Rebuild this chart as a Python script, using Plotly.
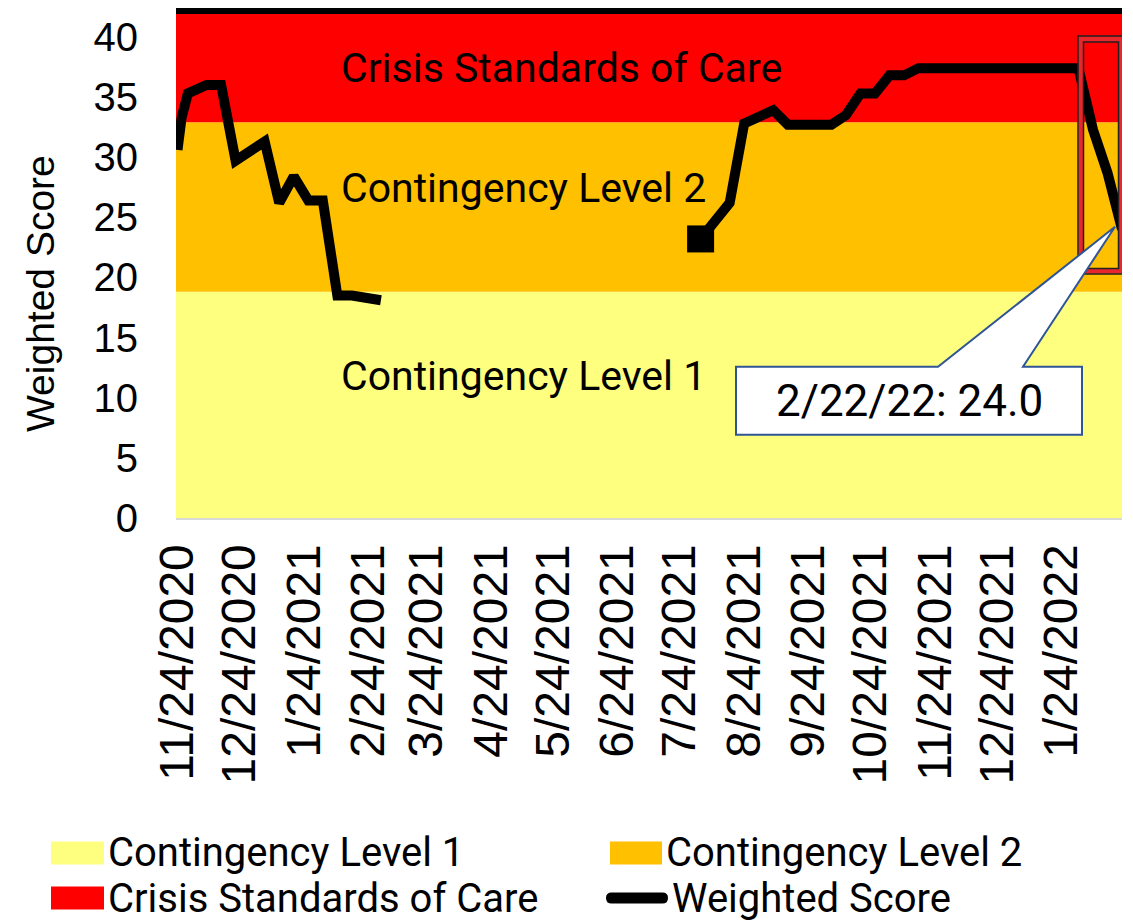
import plotly.graph_objects as go

# ---------------- data ----------------
band_names = ["Contingency Level 1", "Contingency Level 2", "Crisis Standards of Care"]
band_tops = [18.8, 32.9, 41.9]
band_colors = ["#FFFF7F", "#FFC000", "#FF0000"]
band_x = ["2020-11-20", "2022-02-25"]

score_dates_1 = ["2020-11-24", "2020-11-26", "2020-11-29", "2020-12-03", "2020-12-08",
                 "2020-12-15", "2020-12-22", "2021-01-05", "2021-01-12", "2021-01-19",
                 "2021-01-26", "2021-02-02", "2021-02-09", "2021-02-16", "2021-02-23",
                 "2021-03-02"]
score_values_1 = [30.6, 33.3, 35.3, 35.7, 36.0,
                  36.0, 29.7, 31.3, 26.2, 28.4,
                  26.4, 26.4, 18.5, 18.5, 18.3,
                  18.1]

score_dates_2 = ["2021-08-03", "2021-08-10", "2021-08-17", "2021-08-24", "2021-08-31",
                 "2021-09-07", "2021-09-14", "2021-09-21", "2021-09-28", "2021-10-05",
                 "2021-10-12", "2021-10-19", "2021-10-26", "2021-11-02", "2021-11-09",
                 "2021-11-16", "2021-11-23", "2021-11-30", "2021-12-07", "2021-12-14",
                 "2021-12-21", "2021-12-28", "2022-01-04", "2022-01-11", "2022-01-18",
                 "2022-01-25", "2022-02-01", "2022-02-08", "2022-02-15", "2022-02-22"]
score_values_2 = [23.2, 24.7, 26.2, 32.8, 33.35,
                  33.9, 32.7, 32.7, 32.7, 32.7,
                  33.5, 35.3, 35.3, 36.8, 36.8,
                  37.4, 37.4, 37.4, 37.4, 37.4,
                  37.4, 37.4, 37.4, 37.4, 37.4,
                  37.4, 37.4, 32.3, 28.7, 24.0]

tick_dates = ["2020-11-24", "2020-12-24", "2021-01-24", "2021-02-24", "2021-03-24",
              "2021-04-24", "2021-05-24", "2021-06-24", "2021-07-24", "2021-08-24",
              "2021-09-24", "2021-10-24", "2021-11-24", "2021-12-24", "2022-01-24"]
tick_labels = ["11/24/2020", "12/24/2020", "1/24/2021", "2/24/2021", "3/24/2021",
               "4/24/2021", "5/24/2021", "6/24/2021", "7/24/2021", "8/24/2021",
               "9/24/2021", "10/24/2021", "11/24/2021", "12/24/2021", "1/24/2022"]
y_ticks = [0, 5, 10, 15, 20, 25, 30, 35, 40]

callout_text = "2/22/22: 24.0"
y_title = "Weighted Score"
line_name = "Weighted Score"

# ---------------- layout geometry ----------------
# the page body has an 8px margin, so the figure is drawn 8px smaller
W, H = 1125, 915
ML, MR, MT, MB = 168, 11, 0, 405
PW, PH = W - ML - MR, H - MT - MB
PAGE_L, PAGE_B = 176, 518  # plot area left / bottom on the page

def px(x):
    return (x - PAGE_L) / PW

def py(y):
    return (PAGE_B - y) / PH

ARIAL = "Liberation Sans, Arial, sans-serif"
DIN = "Roboto, Liberation Sans, sans-serif"

fig = go.Figure()

# bands (stacked fills)
for i, (name, top, col) in enumerate(zip(band_names, band_tops, band_colors)):
    fig.add_trace(go.Scatter(
        x=band_x, y=[top, top], mode="none", name=name,
        fill="tozeroy" if i == 0 else "tonexty", fillcolor=col,
        showlegend=False, hoverinfo="skip"))

# weighted score line (gap between the two segments)
line_x = score_dates_1 + [None] + score_dates_2
line_y = score_values_1 + [None] + score_values_2
fig.add_trace(go.Scatter(
    x=line_x, y=line_y, mode="lines", name=line_name, connectgaps=False,
    line=dict(color="black", width=10), showlegend=False))
# square marker at the start of the second segment
fig.add_trace(go.Scatter(
    x=[score_dates_2[0]], y=[score_values_2[0]], mode="markers", name=line_name,
    marker=dict(symbol="square", size=27, color="black"), showlegend=False))

shapes = []
annotations = []

# black top line
shapes.append(dict(type="line", xref="paper", yref="y", x0=0, x1=1, y0=42.15, y1=42.15,
                   line=dict(color="black", width=6), layer="above"))

last_x, last_y = score_dates_2[-1], score_values_2[-1]
common = dict(xref="x", yref="y", xsizemode="pixel", ysizemode="pixel",
              xanchor=last_x, yanchor=last_y, layer="above")

# highlight rectangle around the last weeks
shapes.append(dict(type="rect", x0=-41.25, x1=-0.75, y0=190.3, y1=-41.95,
                   line=dict(color="#E8262B", width=5), fillcolor="rgba(0,0,0,0)", **common))
shapes.append(dict(type="rect", x0=-44, x1=2, y0=193.3, y1=-44.7,
                   line=dict(color="#222222", width=1.5), fillcolor="rgba(0,0,0,0)", **common))
shapes.append(dict(type="rect", x0=-38.5, x1=-3.5, y0=187.3, y1=-39.2,
                   line=dict(color="#222222", width=1.5), fillcolor="rgba(0,0,0,0)", **common))

# callout
callout_path = ("M -386,-137.5 L -184,-137.5 L -7,2.5 L -99,-137.5 L -40,-137.5 "
                "L -40,-205.5 L -386,-205.5 Z")
shapes.append(dict(type="path", path=callout_path, fillcolor="white",
                   line=dict(color="#2F5597", width=2), **common))
annotations.append(dict(x=last_x, y=last_y, xref="x", yref="y", text=callout_text,
                        showarrow=False, xshift=-213, yshift=-172,
                        font=dict(family=DIN, size=44, color="black")))

# band labels
for name, yv in zip(band_names, [11.8, 27.4, 37.4]):
    annotations.append(dict(x=px(339), y=yv, xref="paper", yref="y", text=name,
                            showarrow=False, xanchor="left", yanchor="middle",
                            font=dict(family=DIN, size=41, color="black")))

# y axis title
annotations.append(dict(x=px(40), y=py(294), xref="paper", yref="paper", text=y_title,
                        textangle=-90, showarrow=False, xanchor="center", yanchor="middle",
                        font=dict(family=ARIAL, size=39, color="black")))

# manual legend (two columns)
leg_items = [
    ("rect", band_colors[0], band_names[0], 51, 104, 853),
    ("rect", band_colors[1], band_names[1], 610, 662, 853),
    ("rect", band_colors[2], band_names[2], 51, 104, 898),
    ("line", "black", line_name, 606, 668, 898),
]
for kind, col, label, x0, x1, yc in leg_items:
    if kind == "rect":
        shapes.append(dict(type="rect", xref="paper", yref="paper",
                           x0=px(x0), x1=px(x1), y0=py(yc - 11.5), y1=py(yc + 11.5),
                           fillcolor=col, line=dict(width=0)))
    else:
        r = 5.5
        pts = (f"M {px(x0 + r)},{py(yc - r)} L {px(x1 - r)},{py(yc - r)} "
               f"Q {px(x1)},{py(yc - r)} {px(x1)},{py(yc)} "
               f"Q {px(x1)},{py(yc + r)} {px(x1 - r)},{py(yc + r)} "
               f"L {px(x0 + r)},{py(yc + r)} "
               f"Q {px(x0)},{py(yc + r)} {px(x0)},{py(yc)} "
               f"Q {px(x0)},{py(yc - r)} {px(x0 + r)},{py(yc - r)} Z")
        shapes.append(dict(type="path", xref="paper", yref="paper", path=pts,
                           fillcolor=col, line=dict(width=0)))
    annotations.append(dict(x=px(x1 + 2), y=py(yc), xref="paper", yref="paper", text=label,
                            showarrow=False, xanchor="left", yanchor="middle",
                            font=dict(family=DIN, size=40, color="black")))

fig.update_layout(
    width=W, height=H,
    margin=dict(l=ML, r=MR, t=MT, b=MB),
    paper_bgcolor="white", plot_bgcolor="white",
    showlegend=False,
    shapes=shapes, annotations=annotations,
    xaxis=dict(type="date", range=["2020-11-23 06:40", "2022-02-22"],
               tickvals=tick_dates, ticktext=tick_labels, tickangle=-90,
               tickfont=dict(family=ARIAL, size=48, color="black"),
               showgrid=False, zeroline=False, showline=True,
               linecolor="#D9D9D9", linewidth=2, ticks="", ticklabelstandoff=5),
    yaxis=dict(range=[0, 42.4], tickvals=y_ticks,
               tickfont=dict(family=ARIAL, size=40, color="black"),
               showgrid=False, zeroline=False, showline=False, ticks="",
               ticklabelstandoff=37),
)

fig.write_html("out.html")
